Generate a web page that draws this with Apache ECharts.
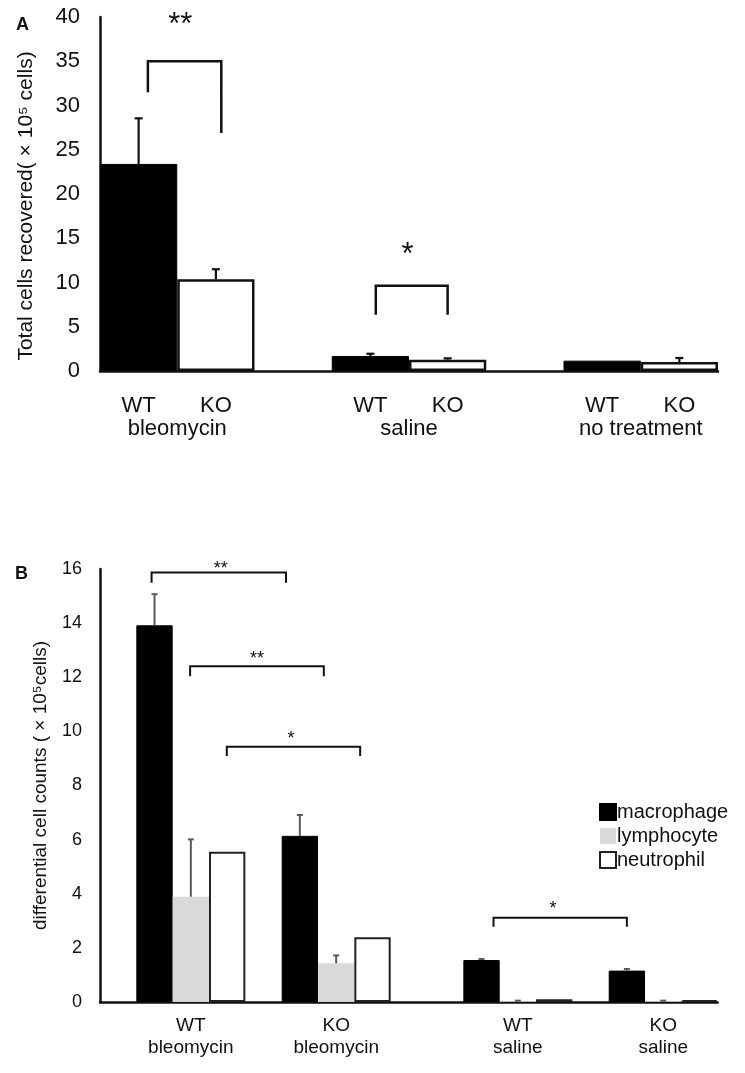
<!DOCTYPE html>
<html>
<head>
<meta charset="utf-8">
<script src="https://cdn.jsdelivr.net/npm/echarts@6/dist/echarts.min.js"></script>
<style>
html,body{margin:0;padding:0;background:#fff;}
#main{width:745px;height:1073px;}
</style>
</head>
<body>
<div id="main"></div>
<script>
// ---------- Panel A data ----------
const groupsA = ['bleomycin', 'saline', 'no treatment'];
const genotypesA = ['WT', 'KO'];
const wtTotal = [23.4, 1.7, 1.17];
const wtTotalErr = [5.15, 0.25, 0];
const koTotal = [10.36, 1.28, 1.02];
const koTotalErr = [1.14, 0.15, 0.45];
const yTicksA = [0, 40, 5]; // min, max, interval
// brackets: [x1, x2, top, leg1 end, leg2 end] in slot units
const bracketsA = [[0.62, 1.57, 35, 31.5, 26.9], [3.57, 4.5, 9.64, 6.36, 6.36]];
const starsA = [['**', 1.04, 39.1], ['*', 3.98, 13.1]];

// ---------- Panel B data ----------
const groupsB = ['WT\nbleomycin', 'KO\nbleomycin', 'WT\nsaline', 'KO\nsaline'];
const cellTypes = ['macrophage', 'lymphocyte', 'neutrophil'];
const macrophage = [13.92, 6.14, 1.55, 1.16];
const macrophageErr = [1.15, 0.77, 0.04, 0.06];
const lymphocyte = [3.89, 1.43, 0.03, 0.03];
const lymphocyteErr = [2.12, 0.29, 0.02, 0.02];
const neutrophil = [5.55, 2.39, 0.10, 0.07];
const yTicksB = [0, 16, 2];
const bracketsB = [[1.42, 5.12, 15.87, 15.49, 15.49], [2.48, 6.16, 12.41, 12.04, 12.04],
                   [3.49, 7.16, 9.43, 9.09, 9.09], [10.83, 14.5, 3.11, 2.78, 2.78]];
const starsB = [['**', 3.32, 15.99], ['**', 4.32, 12.67], ['*', 5.26, 9.72], ['*', 12.47, 3.44]];

// ---------- slot layout ----------
const slotCountA = 8;
const slotA = (g, k) => 3 * g + k;          // k: 0 WT, 1 KO
const slotCountB = 17;
const groupStartB = [1, 5, 10, 14];

const FONT = "'Liberation Sans', Arial, sans-serif";

function slotNames(n) { const a = []; for (let i = 0; i < n; i++) a.push('s' + i); return a; }
function fill(n) { const a = []; for (let i = 0; i < n; i++) a.push('-'); return a; }

const slotLabelA = fill(slotCountA).map(() => '');
groupsA.forEach((g, gi) => genotypesA.forEach((ge, k) => { slotLabelA[slotA(gi, k)] = ge; }));
const groupLabelA = {};
groupsA.forEach((g, gi) => { groupLabelA[3 * gi + 1] = g; });

const wtData = fill(slotCountA), koData = fill(slotCountA);
const errA = [];
groupsA.forEach((g, gi) => {
  wtData[slotA(gi, 0)] = wtTotal[gi];
  koData[slotA(gi, 1)] = koTotal[gi];
  if (wtTotalErr[gi] > 0) errA.push([slotA(gi, 0), wtTotal[gi], wtTotalErr[gi]]);
  if (koTotalErr[gi] > 0) errA.push([slotA(gi, 1), koTotal[gi], koTotalErr[gi]]);
});

const slotLabelB = fill(slotCountB).map(() => '');
groupsB.forEach((g, gi) => { slotLabelB[groupStartB[gi] + 1] = g; });
const seriesValsB = [macrophage, lymphocyte, neutrophil];
const seriesErrB = [macrophageErr, lymphocyteErr, null];
const barDataB = seriesValsB.map(() => fill(slotCountB));
const errB = [];
seriesValsB.forEach((vals, si) => {
  vals.forEach((v, gi) => {
    const s = groupStartB[gi] + si;
    barDataB[si][s] = v;
    if (seriesErrB[si]) errB.push([s, v, seriesErrB[si][gi]]);
  });
});

function errRender(capHalf, color, width) {
  return function (params, api) {
    const x = api.value(0), v = api.value(1), e = api.value(2);
    const p0 = api.coord([x, v]);
    const p1 = api.coord([x, v + e]);
    return {
      type: 'group', children: [
        { type: 'line', shape: { x1: p0[0], y1: p0[1], x2: p1[0], y2: p1[1] }, style: { stroke: color, lineWidth: width } },
        { type: 'line', shape: { x1: p1[0] - capHalf, y1: p1[1], x2: p1[0] + capHalf, y2: p1[1] }, style: { stroke: color, lineWidth: width } }
      ]
    };
  };
}
function bracketRender(width) {
  return function (params, api) {
    const x1 = api.value(0), x2 = api.value(1), top = api.value(2), l1 = api.value(3), l2 = api.value(4);
    const pts = [api.coord([x1, l1]), api.coord([x1, top]), api.coord([x2, top]), api.coord([x2, l2])];
    return { type: 'polyline', shape: { points: pts }, style: { stroke: '#111', lineWidth: width, fill: null } };
  };
}
function starRender(size) {
  return function (params, api) {
    const p = api.coord([api.value(1), api.value(2)]);
    return { type: 'text', style: { text: api.value(0), x: p[0], y: p[1], font: size + 'px ' + FONT, fill: '#111', align: 'center', verticalAlign: 'middle' } };
  };
}

const option = {
  animation: false,
  backgroundColor: '#fff',
  textStyle: { fontFamily: FONT },
  title: [
    { text: 'A', left: 11, top: 11, textStyle: { fontSize: 18, fontWeight: 'bold', color: '#111', fontFamily: FONT } },
    { text: 'B', left: 10, top: 560, textStyle: { fontSize: 18, fontWeight: 'bold', color: '#111', fontFamily: FONT } }
  ],
  legend: {
    data: cellTypes,
    orient: 'vertical',
    left: 599, top: 802, padding: 0,
    itemWidth: 16, itemHeight: 16, itemGap: 4,
    icon: 'rect',
    textStyle: { fontSize: 20, color: '#111', fontFamily: FONT, padding: [0, 0, 0, -4] }
  },
  grid: [
    { left: 100, top: 17, width: 618, height: 354 },
    { left: 100, top: 569, width: 617.7, height: 433 }
  ],
  xAxis: [
    { type: 'category', gridIndex: 0, position: 'bottom', data: slotNames(slotCountA),
      axisLine: { lineStyle: { color: '#111', width: 2.5 } }, axisTick: { show: false },
      axisLabel: { interval: 0, formatter: (v, i) => slotLabelA[i], fontSize: 22, color: '#111', margin: 24, fontFamily: FONT } },
    { type: 'value', gridIndex: 0, position: 'bottom', min: 0, max: slotCountA, interval: 1,
      axisLine: { show: false }, axisTick: { show: false }, splitLine: { show: false },
      axisLabel: { formatter: v => groupLabelA[v] || '', fontSize: 22, color: '#111', margin: 47, fontFamily: FONT, showMinLabel: true, showMaxLabel: true } },
    { type: 'category', gridIndex: 1, position: 'bottom', data: slotNames(slotCountB),
      axisLine: { lineStyle: { color: '#111', width: 2.5 } }, axisTick: { show: false },
      axisLabel: { interval: 0, formatter: (v, i) => slotLabelB[i], fontSize: 19, lineHeight: 22, color: '#111', margin: 13, fontFamily: FONT } },
    { type: 'value', gridIndex: 1, position: 'bottom', min: 0, max: slotCountB, show: false }
  ],
  yAxis: [
    { type: 'value', gridIndex: 0, min: yTicksA[0], max: yTicksA[1], interval: yTicksA[2],
      axisLine: { show: true, lineStyle: { color: '#111', width: 2.5 } }, axisTick: { show: false }, splitLine: { show: false },
      axisLabel: { fontSize: 22, color: '#111', margin: 20, fontFamily: FONT },
      name: 'Total cells recovered( × 10⁵ cells)', nameLocation: 'middle', nameGap: 63, nameRotate: 90,
      nameTextStyle: { fontSize: 21, color: '#111', fontFamily: FONT, padding: [0, 24, 0, 0] } },
    { type: 'value', gridIndex: 1, min: yTicksB[0], max: yTicksB[1], interval: yTicksB[2],
      axisLine: { show: true, lineStyle: { color: '#111', width: 2.5 } }, axisTick: { show: false }, splitLine: { show: false },
      axisLabel: { fontSize: 18, color: '#111', margin: 18, fontFamily: FONT },
      name: 'differential cell counts ( × 10⁵cells)', nameLocation: 'middle', nameGap: 50, nameRotate: 90,
      nameTextStyle: { fontSize: 19, color: '#111', fontFamily: FONT } }
  ],
  series: [
    { type: 'bar', name: 'WT', xAxisIndex: 0, yAxisIndex: 0, data: wtData, barWidth: '100%', barGap: '-100%', barCategoryGap: 0,
      itemStyle: { color: '#000', borderColor: '#000', borderWidth: 1 } },
    { type: 'bar', name: 'KO', xAxisIndex: 0, yAxisIndex: 0, data: koData, barWidth: '100%', barGap: '-100%', barCategoryGap: 0,
      itemStyle: { color: '#fff', borderColor: '#111', borderWidth: 2.5 } },
    { type: 'custom', xAxisIndex: 0, yAxisIndex: 0, data: errA, renderItem: errRender(4, '#111', 2.2), z: 5 },
    { type: 'custom', xAxisIndex: 1, yAxisIndex: 0, data: bracketsA, renderItem: bracketRender(2.5), z: 5 },
    { type: 'custom', xAxisIndex: 1, yAxisIndex: 0, data: starsA, renderItem: starRender(31), z: 5,
      dimensions: [{ name: 'label', type: 'ordinal' }, 'x', 'y'], encode: { x: 1, y: 2 } },

    { type: 'bar', name: cellTypes[0], xAxisIndex: 2, yAxisIndex: 1, data: barDataB[0], barWidth: '100%', barGap: '-100%', barCategoryGap: 0,
      itemStyle: { color: '#000', borderColor: '#000', borderWidth: 1 } },
    { type: 'bar', name: cellTypes[1], xAxisIndex: 2, yAxisIndex: 1, data: barDataB[1], barWidth: '100%', barGap: '-100%', barCategoryGap: 0,
      itemStyle: { color: '#d9d9d9', borderWidth: 0 } },
    { type: 'bar', name: cellTypes[2], xAxisIndex: 2, yAxisIndex: 1, data: barDataB[2], barWidth: '100%', barGap: '-100%', barCategoryGap: 0,
      itemStyle: { color: '#fff', borderColor: '#222', borderWidth: 2 } },
    { type: 'custom', xAxisIndex: 2, yAxisIndex: 1, data: errB, renderItem: errRender(3, '#5a5a5a', 2), z: 5 },
    { type: 'custom', xAxisIndex: 3, yAxisIndex: 1, data: bracketsB, renderItem: bracketRender(2), z: 5 },
    { type: 'custom', xAxisIndex: 3, yAxisIndex: 1, data: starsB, renderItem: starRender(18), z: 5,
      dimensions: [{ name: 'label', type: 'ordinal' }, 'x', 'y'], encode: { x: 1, y: 2 } }
  ]
};

const chart = echarts.init(document.getElementById('main'));
chart.setOption(option);
</script>
</body>
</html>
